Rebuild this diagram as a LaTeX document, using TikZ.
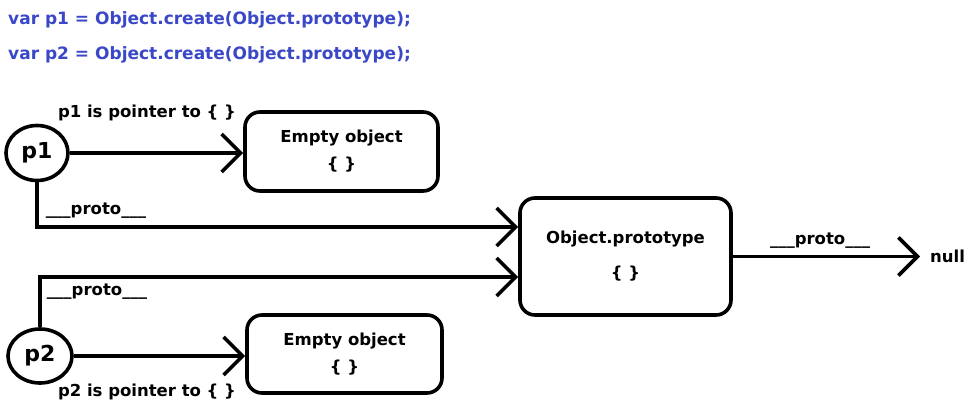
\documentclass[tikz,border=0pt]{standalone}
\usepackage{fontspec}
\setmainfont{DejaVu Sans}
\usetikzlibrary{shapes.geometric,arrows.meta}
\definecolor{codeblue}{RGB}{58,72,200}
\tikzset{
  lw/.style={line width=3.6pt},
  arr/.style={lw,-{Straight Barb[length=19pt,width=38pt,line width=3.6pt]}},
  objbox/.style={draw,lw,rounded corners=15pt,inner sep=0pt,align=center,font=\bfseries\fontsize{16.5}{27}\selectfont},
  ptr/.style={draw,lw,ellipse,inner sep=0pt,font=\bfseries\fontsize{22}{24}\selectfont},
  lbl/.style={inner sep=0pt,font=\bfseries\fontsize{16.5}{18}\selectfont},
  code/.style={inner sep=0pt,anchor=west,text=codeblue,font=\bfseries\fontsize{17}{20}\selectfont}
}
\begin{document}
\begin{tikzpicture}[x=1pt,y=-1pt]
\useasboundingbox[fill=white] (0,0) rectangle (970,420);
\node[code] (c1) at (8,20) {var p1 = Object.create(Object.prototype);};
\node[code] (c2) at (8,55) {var p2 = Object.create(Object.prototype);};
\node[ptr,minimum width=62pt,minimum height=55pt] (p1) at (37,153) {p1};
\node[ptr,minimum width=64pt,minimum height=54pt] (p2) at (40,356) {p2};
\node[objbox,minimum width=193pt,minimum height=79pt] (e1) at (341.5,151.5) {Empty object\\\{ \}};
\node[objbox,minimum width=195pt,minimum height=78pt] (e2) at (344.5,354) {Empty object\\\{ \}};
\node[objbox,minimum width=211pt,minimum height=117pt,font=\bfseries\fontsize{16.5}{35}\selectfont] (proto) at (625.5,256.5) {Object.prototype\\\{ \}};
\node[lbl,anchor=west] (null) at (930,256) {null};
\node[lbl] (l1) at (147,113) {p1 is pointer to \{ \}};
\node[lbl] (l2) at (147,392) {p2 is pointer to \{ \}};
\node[lbl] (pr1) at (96,211) {\_\_\_proto\_\_\_};
\node[lbl] (pr2) at (97,292) {\_\_\_proto\_\_\_};
\node[lbl] (pr3) at (820,241) {\_\_\_proto\_\_\_};
\draw[arr] (p1.east) -- (p1.east -| e1.west);
\draw[arr] (p2.east) -- (p2.east -| e2.west);
\draw[arr] (p1.south) |- ([yshift=29.5pt]proto.west);
\draw[arr] (p2.north) |- ([yshift=-20.5pt]proto.west);
\draw[arr] (proto.east) -- ([xshift=-10pt]null.west |- proto.east);
\end{tikzpicture}
\end{document}
